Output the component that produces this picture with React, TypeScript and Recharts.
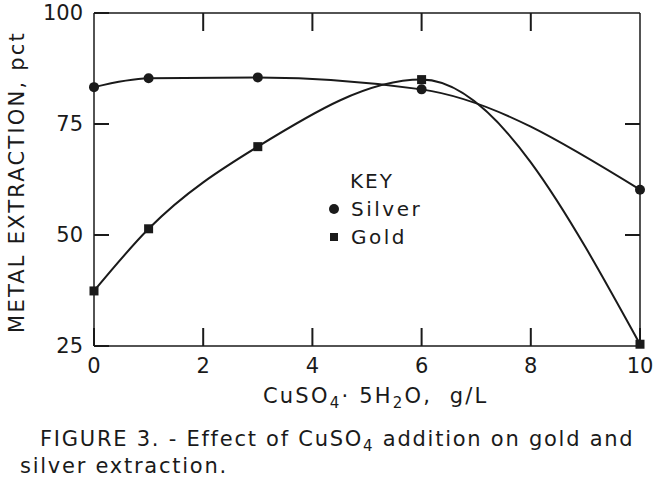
import React from "react";
import { LineChart, Line, XAxis, YAxis } from "recharts";

// CuSO4·5H2O addition, g/L
const dose = [0, 1, 3, 6, 10];
// metal extraction, pct
const silver = [83.3, 85.3, 85.5, 82.8, 60.2];
const gold = [37.4, 51.4, 69.9, 85.0, 25.4];

const xTicks = [0, 2, 4, 6, 8, 10];
const xInner = [2, 4, 6, 8];
const yTicks = [25, 50, 75, 100];
const yInner = [50, 75];

const seriesNames = ["Silver", "Gold"];

const data = dose.map((d, i) => ({ dose: d, Silver: silver[i], Gold: gold[i] }));

const FONT = "'DejaVu Sans', 'Noto Sans', sans-serif";
const INK = "#1a1a1a";

const SquareDot = (props: any) => {
  const { cx, cy } = props;
  if (cx == null || cy == null) return null;
  return <rect x={cx - 4.5} y={cy - 4.5} width={9} height={9} fill={INK} />;
};

const RoundDot = (props: any) => {
  const { cx, cy } = props;
  if (cx == null || cy == null) return null;
  return <circle cx={cx} cy={cy} r={5} fill={INK} />;
};

// tick marks only, no label
const NoLabel = () => <g />;

const KeyLegend = () => (
  <div style={{ fontFamily: FONT, fontSize: 20, color: INK, lineHeight: "28px" }}>
    <div style={{ paddingLeft: 22, letterSpacing: 2 }}>KEY</div>
    {seriesNames.map((n) => (
      <div key={n} style={{ display: "flex", alignItems: "center", letterSpacing: 2.5 }}>
        <svg width={18} height={14}>
          {n === "Silver" ? (
            <circle cx={6} cy={7} r={5} fill={INK} />
          ) : (
            <rect x={2} y={3} width={8} height={8} fill={INK} />
          )}
        </svg>
        <span style={{ marginLeft: 5 }}>{n}</span>
      </div>
    ))}
  </div>
);

const tickStyle = { fontFamily: FONT, fontSize: 21, fill: INK };
const lineStyle = { stroke: INK, strokeWidth: 1.5 };
const tickLineStyle = { stroke: INK, strokeWidth: 2 };

export default function App() {
  return (
    <div style={{ position: "absolute", left: 0, top: 0, width: 655, height: 488, background: "#fff" }}>
      <LineChart width={655} height={488} data={data} margin={{ top: 13, right: 14, bottom: 82, left: 34 }}>
        <XAxis
          xAxisId="main"
          dataKey="dose"
          type="number"
          domain={[0, 10]}
          ticks={xTicks}
          interval={0}
          height={60}
          tickLine={tickLineStyle}
          tickSize={-18}
          tickMargin={30}
          axisLine={lineStyle}
          tick={tickStyle}
        />
        <XAxis
          xAxisId="top"
          orientation="top"
          dataKey="dose"
          type="number"
          domain={[0, 10]}
          ticks={xInner}
          interval={0}
          height={1}
          mirror
          tick={<NoLabel />}
          tickSize={18}
          tickLine={tickLineStyle}
          axisLine={lineStyle}
        />
        <YAxis
          yAxisId="main"
          type="number"
          domain={[25, 100]}
          ticks={yTicks}
          interval={0}
          width={60}
          tickLine={tickLineStyle}
          tickSize={-15}
          tickMargin={26}
          axisLine={lineStyle}
          tick={tickStyle}
        />
        <YAxis
          yAxisId="right"
          orientation="right"
          dataKey="Silver"
          type="number"
          domain={[25, 100]}
          allowDataOverflow
          ticks={yInner}
          interval={0}
          width={1}
          tick={<NoLabel />}
          tickSize={-15}
          tickLine={tickLineStyle}
          axisLine={lineStyle}
        />
        <Line
          xAxisId="main"
          yAxisId="main"
          dataKey="Silver"
          type="monotone"
          stroke={INK}
          strokeWidth={2}
          dot={<RoundDot />}
          activeDot={false}
          isAnimationActive={false}
        />
        <Line
          xAxisId="main"
          yAxisId="main"
          dataKey="Gold"
          type="monotone"
          stroke={INK}
          strokeWidth={2}
          dot={<SquareDot />}
          activeDot={false}
          isAnimationActive={false}
        />
      </LineChart>

      <div style={{ position: "absolute", left: 328, top: 167 }}>
        <KeyLegend />
      </div>

      <div
        style={{
          position: "absolute",
          left: 17,
          top: 182,
          transform: "translate(-50%, -50%) rotate(-90deg)",
          whiteSpace: "nowrap",
          fontFamily: FONT,
          fontSize: 21,
          color: INK,
          letterSpacing: 2.2,
        }}
      >
        METAL EXTRACTION, pct
      </div>

      <div
        style={{
          position: "absolute",
          left: 263,
          top: 384,
          whiteSpace: "nowrap",
          fontFamily: FONT,
          fontSize: 21,
          color: INK,
          letterSpacing: 2.2,
        }}
      >
        CuSO<sub style={{ fontSize: 15 }}>4</sub>·&nbsp;5H<sub style={{ fontSize: 15 }}>2</sub>O,&nbsp; g/L
      </div>

      <div
        style={{
          position: "absolute",
          left: 20,
          top: 426,
          fontFamily: FONT,
          fontSize: 21,
          color: INK,
          letterSpacing: 1.75,
          lineHeight: "27px",
          whiteSpace: "nowrap",
        }}
      >
        <div style={{ paddingLeft: 20 }}>
          FIGURE 3. - Effect of CuSO<sub style={{ fontSize: 15, lineHeight: 0 }}>4</sub> addition on gold and
        </div>
        <div>silver extraction.</div>
      </div>
    </div>
  );
}
